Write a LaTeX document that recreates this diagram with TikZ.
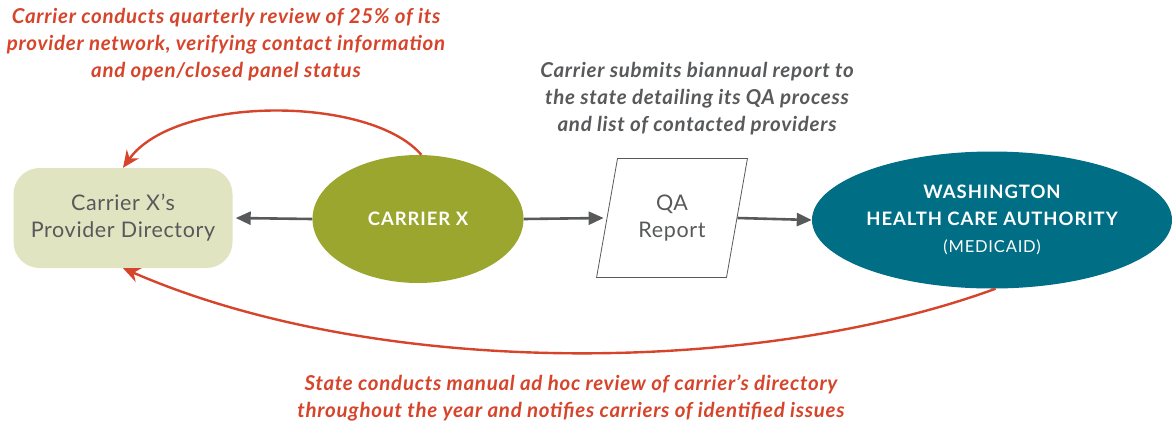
\documentclass[tikz,border=0pt]{standalone}
\usepackage{fontspec}
\setmainfont{Lato}
\newfontfamily\labelfont[LetterSpace=3]{Lato}
\newfontfamily\capsfont[LetterSpace=5]{Lato}
\newfontfamily\notefont[LetterSpace=3.5]{Lato}
\usetikzlibrary{shapes.geometric,arrows.meta}

\begin{document}
\begin{tikzpicture}[x=1pt,y=-1pt]
  % Colors
  \definecolor{notecolor}{RGB}{214,69,43}
  \definecolor{greycolor}{RGB}{88,89,91}
  \definecolor{dircolor}{RGB}{225,228,193}
  \definecolor{carriercolor}{RGB}{155,166,46}
  \definecolor{statecolor}{RGB}{0,111,133}

  % Styles
  \tikzstyle{label text}=[text=greycolor,align=center,font=\labelfont\fontsize{21.5}{27}\selectfont]
  \tikzstyle{caps text}=[text=white,align=center,font=\capsfont\bfseries\fontsize{18.5}{27}\selectfont]
  \tikzstyle{note}=[align=center,font=\notefont\bfseries\itshape\fontsize{20.5}{27}\selectfont]
  \tikzstyle{flow line}=[greycolor,line width=2.6pt,-{Triangle[length=15pt,width=13pt]}]
  \tikzstyle{review line}=[notecolor,line width=2.4pt,-{Stealth[length=17pt,width=15pt]}]

  \useasboundingbox (0,0) rectangle (1172,426);

  % The graphic
  \node[label text,fill=dircolor,rounded corners=26pt,minimum width=219pt,
        minimum height=100pt] (dir) at (123,218) {Carrier X’s\\Provider Directory};

  \node[caps text,ellipse,fill=carriercolor,minimum width=211pt,minimum height=128pt,
        inner sep=0pt] (carrier) at (418,219) {CARRIER X};

  \node[label text,trapezium,trapezium left angle=75,trapezium right angle=105,
        trapezium stretches=true,draw=greycolor,line width=0.8pt,fill=white,
        minimum width=151pt,minimum height=119pt] (qa) at (672,218) {QA\\Report};

  \node[caps text,ellipse,fill=statecolor,minimum width=360pt,minimum height=137pt,
        inner sep=0pt] (state) at (992,220)
    {WASHINGTON\\HEALTH CARE AUTHORITY\\{\mdseries\fontsize{16.5}{24}\selectfont (MEDICAID)}};

  \draw[flow line] (carrier.west) -- ([xshift=3pt]dir.east);
  \draw[flow line] (carrier.east) -- ([xshift=-3pt]qa.west);
  \draw[flow line] (qa.east) -- (state.west);

  \draw[review line] (carrier.87) .. controls (370,95) and (175,95) .. (dir.north);
  \draw[review line] (state.273) .. controls (760,375) and (380,380) .. (dir.south);

  \node[note,text=notecolor] (carriernote) at (226,45)
    {Carrier conducts quarterly review of 25\% of its\\
     provider network, verifying contact information\\
     and open/closed panel status};

  \node[note,text=greycolor] (reportnote) at (697,99)
    {Carrier submits biannual report to\\
     the state detailing its QA process\\
     and list of contacted providers};

  \node[note,text=notecolor] (statenote) at (571,398)
    {State conducts manual ad hoc review of carrier’s directory\\
     throughout the year and notifies carriers of identified issues};
\end{tikzpicture}
\end{document}
